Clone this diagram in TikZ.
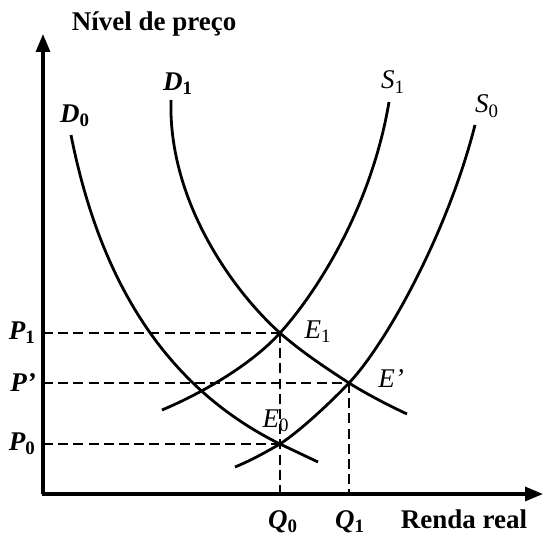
\documentclass[tikz,border=0pt]{standalone}
\usepackage{fontspec}
\setmainfont{Liberation Serif}
\usetikzlibrary{arrows.meta,positioning}

\tikzset{
  axis/.style={line width=1.6pt, -{Triangle[length=9pt,width=7pt]}},
  curve/.style={line width=1.4pt},
  guide/.style={line width=1pt, dash pattern=on 5pt off 2.6pt},
  lbl/.style={font=\fontsize{13.5}{15}\selectfont\bfseries\itshape},
  elbl/.style={font=\fontsize{13.5}{15}\selectfont\itshape},
  title/.style={font=\fontsize{13.5}{15}\selectfont\bfseries}
}

\begin{document}
\begin{tikzpicture}[x=0.5pt, y=-0.5pt]
    % Рамка рисунка
    \useasboundingbox (0,0) rectangle (546,534);

    % Координаты
    \coordinate (O) at (43,494);
    \coordinate (Ytop) at (43,34);
    \coordinate (Xend) at (543,494);
    \coordinate (E1) at (280,333);  % Новое равновесие
    \coordinate (Ep) at (349,383);  % Промежуточное равновесие
    \coordinate (E0) at (280,444);  % Исходное равновесие
    \coordinate (P1) at (43,333);
    \coordinate (Pp) at (43,383);
    \coordinate (P0) at (43,444);
    \coordinate (Q0) at (280,494);
    \coordinate (Q1) at (349,494);

    % Оси координат
    \draw[axis] (O) -- (Ytop);
    \draw[axis] (42,494) -- (Xend);

    % Пунктирные линии к осям
    \draw[guide] (P1) -- (E1);
    \draw[guide] (Pp) -- (Ep);
    \draw[guide] (P0) -- (E0);
    \draw[guide] (E1) -- (Q0);
    \draw[guide] (Ep) -- (Q1);

    % Кривые спроса
    \draw[curve] (71,135) .. controls (104,302) and (181,395) .. (E0) -- (318,462);
    \draw[curve] (171,100) .. controls (168,200) and (232,290) .. (E1)
                 .. controls (303,353) and (326,368) .. (Ep)
                 .. controls (370,396) and (390,406) .. (407,414);

    % Кривые предложения
    \draw[curve] (162,410) .. controls (200,394) and (250,366) .. (E1)
                 .. controls (310,300) and (370,215) .. (389,102);
    \draw[curve] (235,467) .. controls (252,460) and (266,452) .. (E0)
                 .. controls (300,431) and (331,402) .. (Ep)
                 .. controls (385,345) and (447,235) .. (475,125);

    % Подписи осей
    \node[title] (ytitle) at (154,24) {Nível de preço};
    \node[title, anchor=base] (xtitle) at (464,528) {Renda real};

    % Подписи кривых
    \node[lbl] (d1) at (178,84) {D\textsubscript{\upshape 1}};
    \node[lbl] (d0) at (75,116) {D\textsubscript{\upshape 0}};
    \node[elbl] (s1) at (393,82) {S\textsubscript{\upshape 1}};
    \node[elbl] (s0) at (487,106) {S\textsubscript{\upshape 0}};

    % Подписи точек равновесия
    \node[elbl, anchor=base] (e1) at (318,338) {E\textsubscript{\upshape 1}};
    \node[elbl, anchor=base] (ep) at (391,387) {E'};
    \node[elbl, anchor=base] (e0) at (276,427) {E\textsubscript{\upshape 0}};

    % Подписи на осях
    \node[lbl, left] (p1) at (P1) {P\textsubscript{\upshape 1}};
    \node[lbl, left] (pp) at (Pp) {P'};
    \node[lbl, left] (p0) at (P0) {P\textsubscript{\upshape 0}};
    \node[lbl, anchor=base] (q0) at (283,528) {Q\textsubscript{\upshape 0}};
    \node[lbl, anchor=base] (q1) at (350,528) {Q\textsubscript{\upshape 1}};

\end{tikzpicture}
\end{document}
